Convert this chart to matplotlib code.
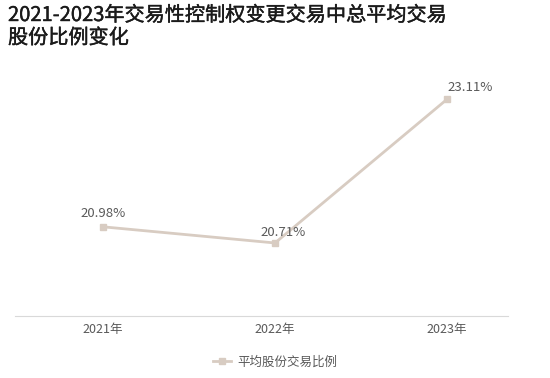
import matplotlib
matplotlib.use('Agg')
import matplotlib.pyplot as plt
import matplotlib.patheffects as pe

plt.rcParams['font.family'] = ['Noto Sans CJK SC', 'DejaVu Sans']

years = ['2021年', '2022年', '2023年']
ratio = [20.98, 20.71, 23.11]
labels = ['20.98%', '20.71%', '23.11%']
series_name = '平均股份交易比例'

line_color = '#d8ccc2'
text_color = '#595959'

fig = plt.figure(figsize=(5.5, 3.78), dpi=100)
ax = fig.add_axes([15 / 550, 1 - 316 / 378, 493 / 550, 246 / 378])

x = list(range(len(years)))
ax.plot(x, ratio, color=line_color, lw=2, marker='s', ms=4,
        mfc=line_color, mec=line_color, label=series_name)

offsets = [(0, 5), (6, 3), (17, 4)]
for xi, yi, lab, off in zip(x, ratio, labels, offsets):
    ax.annotate(lab, (xi, yi), xytext=off, textcoords='offset points',
                ha='center', va='bottom', fontsize=9.5, color=text_color)

ax.set_xlim(-0.512, 2.355)
ax.set_ylim(19.49, 23.6)
ax.set_xticks(x)
ax.set_xticklabels(years, fontsize=9, color=text_color)
ax.tick_params(axis='x', length=0, pad=5)
ax.set_yticks([])
for s in ['top', 'left', 'right']:
    ax.spines[s].set_visible(False)
ax.spines['bottom'].set_color('#d9d9d9')

fig.text(8 / 550, 1 - 5 / 378, '2021-2023年交易性控制权变更交易中总平均交易\n股份比例变化',
         ha='left', va='top', fontsize=14.5, color='#1a1a1a', linespacing=1.1,
         path_effects=[pe.withStroke(linewidth=0.3, foreground='#1a1a1a')])

fig.legend(loc='center', bbox_to_anchor=(275 / 550, 1 - 362 / 378), frameon=False,
           fontsize=9, labelcolor=text_color, handlelength=1.5, handletextpad=0.5)

fig.savefig('out.png', dpi=100)
